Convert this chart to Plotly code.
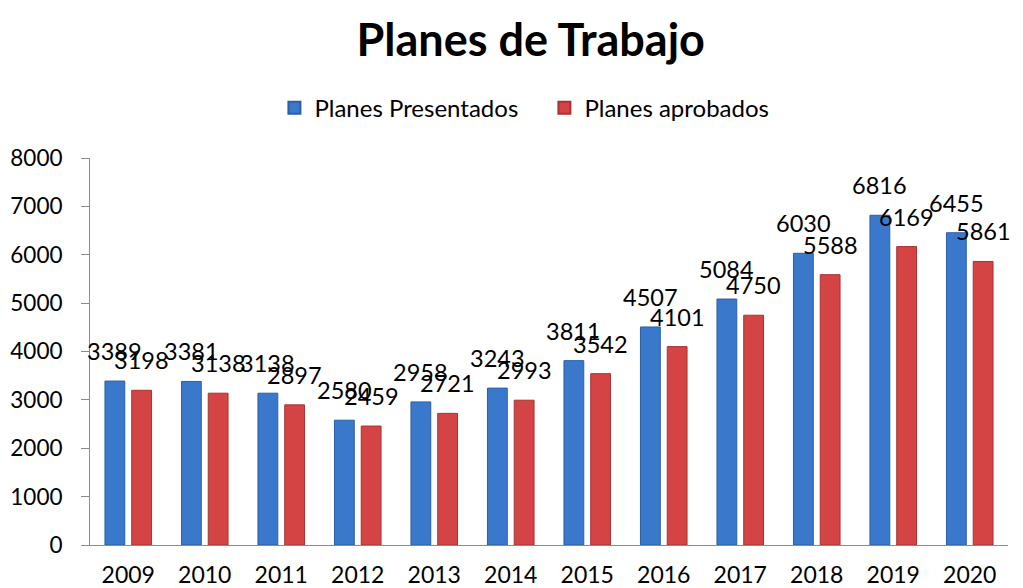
import plotly.graph_objects as go

years = ['2009', '2010', '2011', '2012', '2013', '2014', '2015', '2016', '2017', '2018', '2019', '2020']
presentados = [3389, 3381, 3138, 2580, 2958, 3243, 3811, 4507, 5084, 6030, 6816, 6455]
aprobados = [3198, 3138, 2897, 2459, 2721, 2993, 3542, 4101, 4750, 5588, 6169, 5861]

FONT = 'Lato, Open Sans, sans-serif'
BLUE = '#3a78cc'
RED = '#d44444'

fig = go.Figure()
fig.add_trace(go.Bar(x=years, y=presentados, name='Planes Presentados',
                     marker=dict(color=BLUE, line=dict(color='#2b5ea8', width=1))))
fig.add_trace(go.Bar(x=years, y=aprobados, name='Planes aprobados',
                     marker=dict(color=RED, line=dict(color='#a83232', width=1))))

# value labels sit well above each bar, like the original
# (category index as x, a '2009' string would be read as index 2009)
annotations = []
for i, v in enumerate(presentados):
    annotations.append(dict(x=i, y=v, text=str(v), xref='x', yref='y', showarrow=False,
                            xshift=-13.5, yshift=14, yanchor='bottom',
                            font=dict(family=FONT, size=23.5, color='black')))
for i, v in enumerate(aprobados):
    annotations.append(dict(x=i, y=v, text=str(v), xref='x', yref='y', showarrow=False,
                            xshift=13.5, yshift=14, yanchor='bottom',
                            font=dict(family=FONT, size=23.5, color='black')))

# the page body has an 8px margin, so the figure is 8px smaller than the window
fig.update_layout(
    width=1015, height=580,
    paper_bgcolor='white', plot_bgcolor='white',
    margin=dict(l=82, r=15, t=150, b=43),
    title=dict(text='<b>Planes de Trabajo</b>', x=0.515, xanchor='center', y=0.945, yanchor='middle',
               font=dict(family=FONT, size=45, color='black')),
    legend=dict(orientation='h', x=0.495, xanchor='center', y=1.129, yanchor='middle',
                font=dict(family=FONT, size=24, color='black'), itemsizing='constant',
                entrywidth=225, traceorder='normal'),
    barmode='group', bargap=0.30, bargroupgap=0.26,
    annotations=annotations,
    font=dict(family=FONT, color='black'),
)
fig.update_xaxes(type='category', range=[-0.5, len(years) - 0.5], showline=True,
                 linecolor='#8c8c8c', linewidth=1, showgrid=False, ticks='', automargin=False,
                 ticklabelstandoff=9, tickfont=dict(family=FONT, size=23, color='black'))
fig.update_yaxes(range=[0, 8000], dtick=1000, showline=True, linecolor='#8c8c8c', linewidth=1,
                 showgrid=False, zeroline=False, ticks='outside', ticklen=8, tickcolor='#8c8c8c',
                 automargin=False,
                 ticklabelstandoff=14, tickfont=dict(family=FONT, size=22.5, color='black'))

fig.write_html('out.html')
